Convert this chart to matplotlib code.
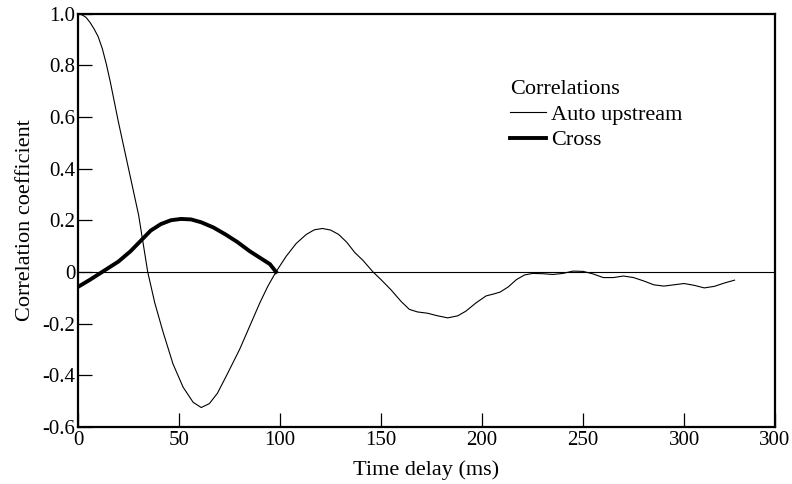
import matplotlib
matplotlib.use("Agg")
import matplotlib.pyplot as plt
from matplotlib.ticker import FixedLocator, FixedFormatter

plt.rcParams['font.family'] = ['Liberation Serif', 'DejaVu Serif']

# Auto-correlation (upstream)
auto_t = [0, 2, 4, 6, 8, 10, 12, 14, 16, 20, 25, 30, 34.5, 38, 42, 47, 52, 57, 61,
          65, 69, 73.6, 80, 85, 90, 94, 98, 103, 108, 113, 117, 121, 125, 129, 133,
          137, 141, 146, 150, 155, 160, 164, 168, 173, 178, 183, 188, 192, 197, 202,
          206, 209, 213, 217, 221, 225, 230, 235, 240, 245, 250, 255, 260, 265, 270,
          275, 280, 285, 290, 295, 300, 305, 310, 315, 320, 325]
auto_r = [1.0, 0.995, 0.985, 0.965, 0.94, 0.91, 0.865, 0.805, 0.735, 0.58, 0.40,
          0.22, 0.0, -0.12, -0.23, -0.356, -0.446, -0.505, -0.525, -0.51, -0.47,
          -0.40, -0.30, -0.21, -0.12, -0.055, 0.0, 0.06, 0.11, 0.145, 0.163, 0.168,
          0.162, 0.145, 0.115, 0.075, 0.045, 0.0, -0.03, -0.07, -0.115, -0.145,
          -0.155, -0.16, -0.17, -0.178, -0.17, -0.152, -0.12, -0.093, -0.085,
          -0.078, -0.058, -0.03, -0.012, -0.006, -0.007, -0.01, -0.006, 0.003,
          0.002, -0.008, -0.022, -0.022, -0.016, -0.022, -0.035, -0.05, -0.055,
          -0.05, -0.045, -0.052, -0.062, -0.056, -0.043, -0.032]

# Cross-correlation
cross_t = [0, 6, 12, 20, 26, 31, 36, 41, 46, 51, 56, 61, 67, 73, 79, 85, 91, 95, 98]
cross_r = [-0.058, -0.03, 0.0, 0.04, 0.08, 0.12, 0.16, 0.185, 0.2, 0.205, 0.203,
           0.192, 0.172, 0.145, 0.115, 0.08, 0.05, 0.03, 0.0]

x_ticks = [0, 50, 100, 150, 200, 250, 300, 345]
x_labels = ["0", "50", "100", "150", "200", "250", "300", "300"]
y_ticks = [-0.6, -0.4, -0.2, 0, 0.2, 0.4, 0.6, 0.8, 1.0]
y_labels = ["-0.6", "-0.4", "-0.2", "0", "0.2", "0.4", "0.6", "0.8", "1.0"]

fig = plt.figure(figsize=(7.92, 4.84), dpi=100)
ax = fig.add_axes([0.0985, 0.118, 0.88, 0.854])

ax.axhline(0, color='black', linewidth=0.8)
ax.plot(auto_t, auto_r, color='black', linewidth=0.8, label='Auto upstream')
ax.plot(cross_t, cross_r, color='black', linewidth=2.8, label='Cross')

ax.set_xlim(0, 345)
ax.set_ylim(-0.6, 1.0)
ax.xaxis.set_major_locator(FixedLocator(x_ticks))
ax.xaxis.set_major_formatter(FixedFormatter(x_labels))
ax.yaxis.set_major_locator(FixedLocator(y_ticks))
ax.yaxis.set_major_formatter(FixedFormatter(y_labels))
ax.tick_params(direction='in', length=10, width=0.9, labelsize=15, pad=2)
ax.tick_params(axis='x', pad=3)

for s in ax.spines.values():
    s.set_linewidth(1.6)

ax.set_xlabel("Time delay (ms)", fontsize=16, labelpad=7)
ax.set_ylabel("Correlation coefficient", fontsize=16, labelpad=5)

leg = ax.legend(title="Correlations", loc='upper left', bbox_to_anchor=(0.604, 0.865),
                frameon=False, fontsize=16, title_fontsize=16, handlelength=1.6,
                handletextpad=0.25, labelspacing=0.22, borderpad=0, alignment='left')

fig.savefig("out.png", dpi=100)
plt.close(fig)
